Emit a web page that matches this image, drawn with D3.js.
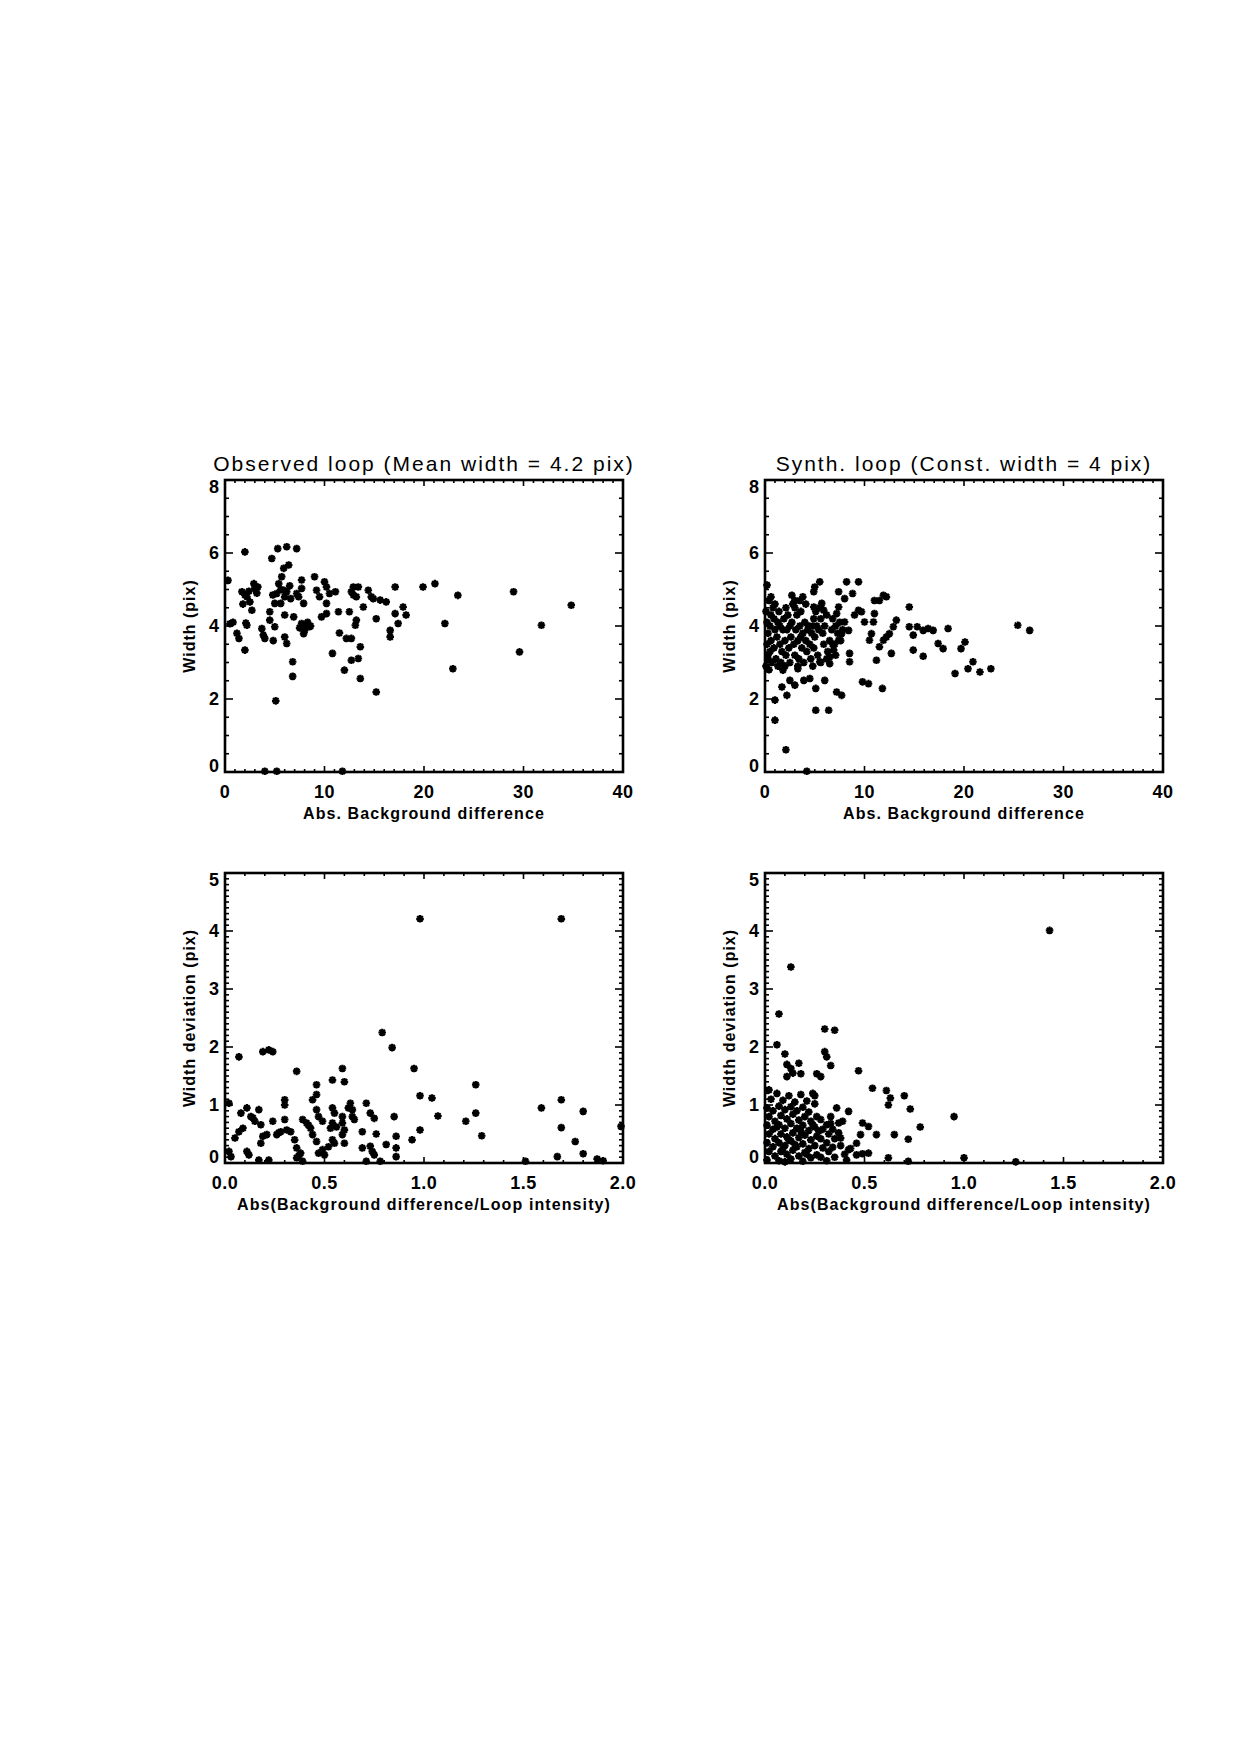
<!DOCTYPE html>
<html><head><meta charset="utf-8">
<script src="https://cdn.jsdelivr.net/npm/d3@7"></script>
<style>body{margin:0;background:#fff}svg{display:block}text{font-family:"Liberation Sans",Arial,sans-serif;fill:#000}</style>
</head><body>
<script>
// ---------- data ----------
const titles = ["Observed loop (Mean width = 4.2 pix)", "Synth. loop (Const. width = 4 pix)"];
const xLabelTop = "Abs. Background difference";
const xLabelBottom = "Abs(Background difference/Loop intensity)";
const yLabelTop = "Width (pix)";
const yLabelBottom = "Width deviation (pix)";
const xTicksTop = [0, 10, 20, 30, 40];
const yTicksTop = [0, 2, 4, 6, 8];
const xTicksBottom = [0.0, 0.5, 1.0, 1.5, 2.0];
const yTicksBottom = [0, 1, 2, 3, 4, 5];

// Observed loop: [abs background difference, width]
const obsWidth = [
[0.3,5.25],[0.5,4.06],[0.8,4.1],[1.2,3.8],[1.4,3.66],[2.0,6.03],[2.0,3.34],[2.2,4.02],[2.1,4.08],
[1.7,4.94],[1.8,4.6],[2.2,4.8],[2.5,4.66],[2.7,4.43],[2.9,5.16],[3.0,5.03],[3.2,4.9],[3.3,5.07],[2.0,4.85],[2.4,4.95],
[3.7,3.93],[3.85,3.75],[4.0,3.66],[4.0,0.02],[4.7,5.85],[4.5,4.39],[4.5,4.16],[4.85,3.6],[5.0,3.98],[5.1,1.95],
[5.2,0.02],[5.3,6.12],[6.2,6.17],[7.2,6.12],[5.9,5.58],[6.4,5.67],[5.7,5.35],[5.4,5.16],[5.2,4.89],[5.0,4.62],
[5.6,4.62],[6.0,4.8],[5.9,4.98],[6.2,4.94],[6.0,3.7],[6.2,3.52],[6.0,4.3],[6.8,3.02],[6.8,2.62],[6.9,4.25],
[7.2,4.89],[7.7,5.26],[7.7,5.03],[7.4,4.8],[7.9,4.62],[7.7,4.07],[8.0,3.88],[8.2,4.02],[8.5,3.98],[7.9,3.79],
[9.0,5.35],[9.2,4.98],[9.5,4.8],[9.7,4.25],[10.2,4.34],[10.0,5.21],[10.2,5.07],[10.5,4.89],[11.1,4.94],[10.2,4.62],
[10.8,3.25],[11.4,4.39],[11.5,3.81],[12.0,2.79],[12.2,3.66],[12.7,3.66],[12.5,4.39],[12.7,4.94],[12.9,5.07],[13.4,5.07],
[13.2,4.8],[13.1,4.02],[13.2,4.16],[12.7,3.06],[13.4,3.11],[13.6,3.43],[13.6,2.56],[13.9,4.52],[14.4,4.98],[14.7,4.8],
[15.2,4.2],[15.2,2.19],[15.6,4.71],[16.2,4.66],[16.6,3.88],[16.6,3.7],[17.1,5.07],[17.1,4.34],[17.4,4.07],[17.9,4.52],
[18.2,4.3],[19.9,5.07],[21.1,5.16],[22.1,4.07],[23.4,4.84],[22.9,2.83],[29.0,4.94],[29.6,3.29],[31.8,4.02],[34.8,4.57],
[11.8,0.02],[6.6,4.75],[8.3,4.1],[7.5,3.95],[5.6,5.0],[4.8,4.85],[6.5,5.1],[8.6,4.0],[12.9,4.85],[14.9,4.75]
];

// Synthetic loop: [abs background difference, width]
const synWidth = [
[0.2,5.12],[0.6,4.8],[1.0,1.97],[1.0,1.42],[2.1,0.61],[4.2,0.02],[1.8,2.79],[1.7,2.33],[2.2,2.1],[2.7,4.84],
[3.0,4.7],[3.5,4.7],[3.8,4.8],[2.5,2.51],[3.0,2.38],[3.3,2.83],[3.9,2.51],[4.5,2.56],[5.1,2.29],[5.1,1.69],
[6.4,1.69],[6.0,2.51],[4.9,4.94],[5.5,5.21],[5.0,5.07],[4.9,4.52],[5.7,4.62],[5.9,4.43],[5.5,3.02],[6.5,2.97],
[7.2,2.19],[7.7,2.1],[7.4,4.94],[8.2,5.21],[8.0,4.75],[7.2,4.34],[7.4,4.52],[8.0,4.11],[7.7,3.79],[7.4,3.61],
[6.9,3.34],[6.5,3.15],[8.4,3.88],[8.5,3.25],[8.5,3.02],[8.8,4.89],[9.4,5.21],[9.0,4.3],[9.4,4.43],[9.7,4.39],
[10.0,4.11],[9.8,2.47],[10.4,2.42],[10.5,3.61],[10.7,3.79],[10.9,4.11],[11.0,4.34],[11.0,4.7],[11.5,4.7],[11.9,4.84],
[12.2,4.8],[11.2,3.06],[11.8,2.29],[11.5,3.43],[11.9,3.61],[12.2,3.7],[12.5,3.79],[12.7,3.25],[12.9,3.98],[13.2,4.16],
[14.5,4.52],[14.5,3.98],[14.9,3.34],[14.9,3.75],[15.3,3.98],[15.9,3.17],[15.9,3.88],[16.4,3.93],[16.9,3.88],[17.4,3.52],
[17.9,3.38],[18.4,3.93],[19.1,2.7],[19.7,3.38],[20.1,3.56],[20.4,2.83],[20.9,3.02],[21.6,2.74],[22.7,2.83],[25.4,4.02],
[26.6,3.88],
[0.1,4.4],[0.2,4.1],[0.3,3.8],[0.2,3.5],[0.3,3.2],[0.1,2.9],[0.4,2.8],[0.5,3.3],[0.6,3.6],[0.5,4.0],
[0.6,4.3],[0.8,4.5],[0.9,4.2],[1.0,3.9],[0.9,3.4],[1.1,3.1],[1.2,3.7],[1.3,4.1],[1.4,4.4],[1.5,3.5],
[1.6,3.0],[1.7,3.3],[1.8,3.9],[1.9,4.2],[2.0,3.6],[2.1,3.2],[2.2,3.9],[2.3,4.3],[2.4,3.4],[2.5,3.0],
[2.6,3.7],[2.7,4.1],[2.8,4.6],[2.9,3.5],[3.0,3.2],[3.1,3.9],[3.2,4.3],[3.3,3.6],[3.4,3.1],[3.5,4.0],
[3.6,4.4],[3.7,3.4],[3.8,3.8],[3.9,3.0],[4.0,4.1],[4.1,3.6],[4.2,3.3],[4.3,3.9],[4.4,4.0],[4.5,3.5],
[4.6,3.1],[4.7,3.8],[4.8,4.0],[4.9,3.4],[5.0,3.7],[5.2,4.0],[5.3,3.2],[5.4,3.9],[5.5,4.5],[5.6,4.2],
[5.8,3.8],[5.9,3.5],[6.0,4.0],[6.2,4.3],[6.3,3.3],[6.5,3.6],[6.7,3.9],[6.8,4.2],[7.0,3.5],[7.1,3.2],
[7.3,3.8],[7.5,4.1],[7.6,3.6],[7.8,3.9],[1.0,4.6],[0.4,4.7],[2.1,4.5],[3.0,4.5],[4.1,4.6],[0.7,3.0],
[1.3,2.9],[2.0,2.9],[3.3,2.9],[4.8,2.9],[5.6,3.0],[6.2,3.1],[0.3,3.1],[1.5,4.0],[2.5,4.0],[3.6,3.7],
[4.9,4.2],[5.1,4.4],[6.8,3.5],[7.1,4.0]
];

// Observed loop: [abs(bg diff / loop intensity), width deviation]
const obsDev = [
[0.02,1.03],[0.02,0.2],[0.03,0.11],[0.07,1.83],[0.05,0.43],[0.07,0.54],[0.09,0.6],[0.08,0.86],[0.11,0.95],[0.11,0.2],
[0.12,0.14],[0.13,0.8],[0.15,0.72],[0.18,0.66],[0.17,0.92],[0.17,0.05],[0.18,0.34],[0.19,0.46],[0.21,0.49],[0.19,1.92],
[0.22,1.95],[0.24,1.92],[0.22,0.05],[0.24,0.72],[0.26,0.49],[0.28,0.54],[0.30,1.09],[0.30,1.0],[0.30,0.75],[0.31,0.57],
[0.33,0.54],[0.36,1.58],[0.35,0.40],[0.36,0.26],[0.36,0.09],[0.38,0.17],[0.39,0.03],[0.39,0.75],[0.41,0.69],[0.43,0.6],
[0.44,0.49],[0.44,1.09],[0.46,1.18],[0.46,1.35],[0.46,0.92],[0.47,0.8],[0.49,0.72],[0.46,0.37],[0.47,0.17],[0.49,0.23],
[0.50,0.14],[0.54,1.43],[0.54,0.95],[0.55,0.86],[0.54,0.69],[0.53,0.6],[0.54,0.4],[0.55,0.34],[0.59,0.8],[0.59,0.69],
[0.60,0.57],[0.59,0.49],[0.60,0.34],[0.59,1.63],[0.60,1.40],[0.63,1.03],[0.64,0.92],[0.64,0.80],[0.65,0.75],[0.69,0.54],
[0.71,1.03],[0.73,0.86],[0.75,0.77],[0.69,0.26],[0.73,0.29],[0.74,0.2],[0.75,0.14],[0.78,0.03],[0.71,0.03],[0.76,0.5],
[0.79,2.25],[0.84,1.99],[0.81,0.32],[0.85,0.8],[0.86,0.46],[0.86,0.26],[0.86,0.11],[0.94,0.4],[0.95,1.63],[0.98,4.21],
[0.98,1.16],[0.98,0.57],[1.04,1.12],[1.07,0.81],[1.21,0.72],[1.26,1.35],[1.26,0.86],[1.29,0.47],[1.51,0.03],[1.59,0.95],
[1.67,0.11],[1.69,4.21],[1.69,1.09],[1.69,0.61],[1.76,0.37],[1.80,0.89],[1.80,0.16],[1.87,0.07],[1.90,0.04],[1.99,0.63],
[0.42,0.65],[0.37,0.12],[0.56,0.62],[0.62,0.95],[0.27,0.52],[0.14,0.78],[0.52,0.28]
];

// Synthetic loop: [abs(bg diff / loop intensity), width deviation]
const synDev = [
[1.43,4.01],[0.13,3.38],[0.07,2.57],[0.06,2.04],[0.30,2.31],[0.35,2.29],[0.30,1.92],[0.31,1.83],[0.10,1.88],[0.11,1.7],
[0.13,1.63],[0.14,1.55],[0.11,1.49],[0.17,1.72],[0.18,1.54],[0.26,1.54],[0.28,1.49],[0.33,1.68],[0.47,1.59],[0.54,1.29],
[0.61,1.25],[0.63,1.12],[0.62,1.0],[0.70,1.16],[0.73,0.93],[0.78,0.62],[0.95,0.8],[1.0,0.09],[1.26,0.02],[0.02,1.26],
[0.06,1.2],[0.12,1.16],[0.18,1.18],[0.24,1.2],[0.25,1.16],[0.36,0.95],[0.42,0.89],[0.33,0.8],[0.37,0.69],[0.39,0.72],
[0.49,0.69],[0.52,0.63],[0.48,0.49],[0.46,0.34],[0.56,0.49],[0.65,0.49],[0.72,0.41],[0.38,0.43],[0.42,0.23],[0.46,0.14],
[0.49,0.16],[0.52,0.17],[0.62,0.09],[0.72,0.03],
[0.01,0.95],[0.02,0.8],[0.01,0.65],[0.02,0.5],[0.01,0.35],[0.02,0.2],[0.01,0.05],[0.04,0.9],[0.05,0.72],[0.04,0.58],
[0.05,0.42],[0.04,0.28],[0.05,0.12],[0.07,0.98],[0.08,0.82],[0.07,0.66],[0.08,0.5],[0.07,0.35],[0.08,0.2],[0.07,0.04],
[0.1,0.92],[0.11,0.76],[0.1,0.6],[0.11,0.45],[0.1,0.3],[0.11,0.15],[0.1,0.02],[0.13,0.97],[0.14,0.84],[0.13,0.68],
[0.14,0.52],[0.13,0.38],[0.14,0.22],[0.13,0.07],[0.16,0.9],[0.17,0.74],[0.16,0.6],[0.17,0.44],[0.16,0.28],[0.17,0.12],
[0.19,0.96],[0.2,0.8],[0.19,0.65],[0.2,0.48],[0.19,0.33],[0.2,0.18],[0.19,0.03],[0.22,0.88],[0.23,0.72],[0.22,0.56],
[0.23,0.4],[0.22,0.25],[0.23,0.09],[0.25,1.02],[0.26,0.8],[0.25,0.62],[0.26,0.46],[0.25,0.3],[0.26,0.14],[0.28,0.75],
[0.29,0.58],[0.28,0.42],[0.29,0.26],[0.28,0.1],[0.31,0.66],[0.32,0.5],[0.31,0.35],[0.32,0.2],[0.31,0.04],[0.34,0.58],
[0.35,0.42],[0.34,0.27],[0.35,0.1],[0.37,0.52],[0.38,0.3],[0.4,0.15],[0.41,0.05],[0.43,0.25],[0.03,1.1],[0.09,1.08],
[0.15,1.05],[0.21,1.07],[0.06,0.62],[0.12,0.4],[0.18,0.55],[0.24,0.66],[0.15,0.32],[0.09,0.25],[0.21,0.15],[0.27,0.55],
[0.33,0.68]
];

// ---------- drawing ----------
const svg = d3.select("body").append("svg").attr("width", 1240).attr("height", 1754);
svg.append("rect").attr("width", 1240).attr("height", 1754).attr("fill", "#fff");

const panels = [
  {left:225, top:480, w:398, h:292, xd:[0,40], yd:[0,8], xt:xTicksTop, yt:yTicksTop, xminor:1, yminor:0.5, fmt:d3.format("d"), title:titles[0], xl:xLabelTop, yl:yLabelTop, data:obsWidth},
  {left:765, top:480, w:398, h:292, xd:[0,40], yd:[0,8], xt:xTicksTop, yt:yTicksTop, xminor:1, yminor:0.5, fmt:d3.format("d"), title:titles[1], xl:xLabelTop, yl:yLabelTop, data:synWidth},
  {left:225, top:873, w:398, h:290, xd:[0,2], yd:[0,5], xt:xTicksBottom, yt:yTicksBottom, xminor:0.1, yminor:0.1, fmt:d3.format(".1f"), title:null, xl:xLabelBottom, yl:yLabelBottom, data:obsDev},
  {left:765, top:873, w:398, h:290, xd:[0,2], yd:[0,5], xt:xTicksBottom, yt:yTicksBottom, xminor:0.1, yminor:0.1, fmt:d3.format(".1f"), title:null, xl:xLabelBottom, yl:yLabelBottom, data:synDev}
];

const r = 3.8, d = r * 0.72;
const star = `M${-r},0H${r}M0,${-r}V${r}M${-d},${-d}L${d},${d}M${-d},${d}L${d},${-d}`;

panels.forEach(p => {
  const g = svg.append("g").attr("transform", `translate(${p.left},${p.top})`);
  const x = d3.scaleLinear().domain(p.xd).range([0, p.w]);
  const y = d3.scaleLinear().domain(p.yd).range([p.h, 0]);
  const xMinorVals = d3.range(p.xd[0], p.xd[1] + 1e-9, p.xminor);
  const yMinorVals = d3.range(p.yd[0], p.yd[1] + 1e-9, p.yminor);
  const majX = 6, minX = 3, majY = 8, minY = 4;
  const tk = g.append("g").attr("stroke", "#000").attr("stroke-width", 1.6);
  xMinorVals.forEach(v => {
    const isMaj = p.xt.some(t => Math.abs(t - v) < 1e-6);
    const L = isMaj ? majX : minX;
    tk.append("line").attr("x1", x(v)).attr("x2", x(v)).attr("y1", p.h).attr("y2", p.h - L);
    tk.append("line").attr("x1", x(v)).attr("x2", x(v)).attr("y1", 0).attr("y2", L);
  });
  yMinorVals.forEach(v => {
    const isMaj = p.yt.some(t => Math.abs(t - v) < 1e-6);
    const L = isMaj ? majY : minY;
    tk.append("line").attr("y1", y(v)).attr("y2", y(v)).attr("x1", 0).attr("x2", L);
    tk.append("line").attr("y1", y(v)).attr("y2", y(v)).attr("x1", p.w).attr("x2", p.w - L);
  });
  g.append("rect").attr("width", p.w).attr("height", p.h).attr("fill", "none").attr("stroke", "#000").attr("stroke-width", 2.6);

  // tick labels
  g.selectAll(".xl").data(p.xt).join("text")
    .attr("x", v => x(v)).attr("y", p.h + 26).attr("text-anchor", "middle")
    .attr("font-size", 18).attr("font-weight", "bold").attr("letter-spacing", 0.5).text(v => p.fmt(v));
  g.selectAll(".yl").data(p.yt).join("text")
    .attr("x", -6).attr("y", v => Math.min(Math.max(y(v), 7), p.h - 6)).attr("dy", "0.36em")
    .attr("text-anchor", "end").attr("font-size", 18).attr("font-weight", "bold").text(v => v);

  // axis labels
  g.append("text").attr("x", p.w / 2).attr("y", p.h + 47).attr("text-anchor", "middle")
    .attr("font-size", 16).attr("font-weight", "bold").attr("letter-spacing", 1.1).text(p.xl);
  g.append("text").attr("transform", `translate(${-30},${p.h / 2}) rotate(-90)`)
    .attr("text-anchor", "middle").attr("font-size", 16).attr("font-weight", "bold").attr("letter-spacing", 1).text(p.yl);
  if (p.title) {
    g.append("text").attr("x", p.w / 2).attr("y", -9).attr("text-anchor", "middle")
      .attr("font-size", 21).attr("letter-spacing", 2).text(p.title);
  }

  // points
  g.append("g").selectAll("path").data(p.data).join("path")
    .attr("transform", v => `translate(${x(v[0])},${y(v[1])})`)
    .attr("d", star).attr("fill", "none").attr("stroke", "#000").attr("stroke-width", 2.2);
});
</script>
</body></html>
